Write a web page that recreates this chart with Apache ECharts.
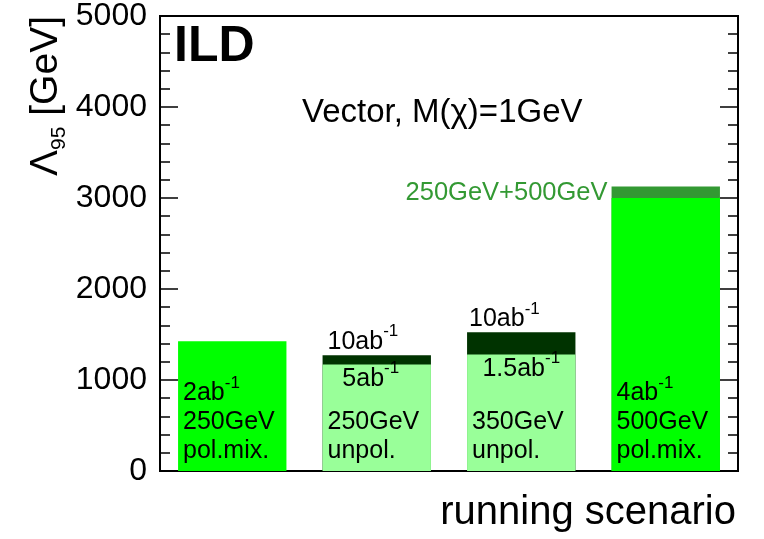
<!DOCTYPE html>
<html>
<head>
<meta charset="utf-8">
<script src="https://cdn.jsdelivr.net/npm/echarts@6/dist/echarts.min.js"></script>
<style>
html,body{margin:0;padding:0;background:#fff;}
#main{width:764px;height:539px;}
</style>
</head>
<body>
<div id="main"></div>
<script>
// ---- data ----
const categories = ['250GeV pol.mix.', '250GeV unpol.', '350GeV unpol.', '500GeV pol.mix.'];
const baseReach = [1425, 1170, 1280, 3000];      // Λ95 [GeV] with nominal luminosity
const fullReach = [null, 1272, 1524, 3126];      // Λ95 [GeV] with extended luminosity / combination
const baseLumi = ['2ab', null, null, '4ab'];
const energyText = ['250GeV', '250GeV', '350GeV', '500GeV'];
const polText = ['pol.mix.', 'unpol.', 'unpol.', 'pol.mix.'];
const lowLumi = [null, '5ab', '1.5ab', null];
const highLumi = [null, '10ab', '10ab', null];
const comboText = '250GeV+500GeV';
const yTicks = [0, 1000, 2000, 3000, 4000, 5000];

const FF = '"Liberation Sans", Arial, Helvetica, sans-serif';
const baseColors = ['#00ff00', '#99ff99', '#99ff99', '#00ff00'];
const fullColors = [null, '#003300', '#003300', '#339933'];

function richFor(lh) {
  return {
    t: {fontFamily: FF, fontSize: 25, lineHeight: lh, verticalAlign: 'middle', color: '#000'},
    s: {fontFamily: FF, fontSize: 17, lineHeight: 4, verticalAlign: 'middle', padding: [0, 0, 21, 0], color: '#000'}
  };
}

const baseData = baseReach.map((v, i) => {
  const lines = [];
  if (baseLumi[i]) lines.push('{t|' + baseLumi[i] + '}{s|-1}');
  lines.push('{t|' + energyText[i] + '}');
  lines.push('{t|' + polText[i] + '}');
  return {
    value: v,
    itemStyle: {color: baseColors[i]},
    label: {show: true, position: 'insideBottomLeft', distance: 5, color: '#000',
      formatter: lines.join('\n'), rich: richFor(29)}
  };
});

const hiOffsets = [0, 5, 2, 0];
const fullData = fullReach.map((v, i) => {
  const d = {value: v, itemStyle: {color: fullColors[i] || '#000'}};
  if (highLumi[i]) {
    d.label = {show: true, position: [hiOffsets[i], -1], align: 'left', verticalAlign: 'bottom', color: '#000',
      formatter: '{t|' + highLumi[i] + '}{s|-1}', rich: richFor(24)};
  } else if (v != null) {
    d.label = {show: true, position: [-4, 6], align: 'right', verticalAlign: 'middle',
      formatter: comboText, fontFamily: FF, fontSize: 25.5, color: '#339933'};
  }
  return d;
});

const lowOffsets = [0, -6, 0, 0];
const lumiData = [];
lowLumi.forEach((t, i) => {
  if (!t) return;
  lumiData.push({
    value: [i, baseReach[i]],
    label: {show: true, position: 'bottom', distance: 0, offset: [lowOffsets[i], 0], color: '#000', opacity: 1,
      textBorderWidth: 0, formatter: '{t|' + t + '}{s|-1}', rich: richFor(29)}
  });
});

const chart = echarts.init(document.getElementById('main'), null, {renderer: 'canvas'});

const yAxisBase = {
  type: 'value', min: 0, max: 5000, interval: 1000,
  axisLine: {show: true, lineStyle: {color: '#000', width: 2}},
  axisTick: {show: true, inside: true, length: 18, lineStyle: {color: '#000', width: 1.5}},
  minorTick: {show: true, splitNumber: 5, length: 10, lineStyle: {color: '#000', width: 1.5}},
  splitLine: {show: false},
  minorSplitLine: {show: false}
};

chart.setOption({
  animation: false,
  backgroundColor: '#fff',
  grid: {left: 160, right: 26, top: 14, bottom: 68, show: true, borderColor: '#000', borderWidth: 2, backgroundColor: 'transparent'},
  xAxis: {
    type: 'category', data: categories,
    axisLine: {show: true, lineStyle: {color: '#000', width: 2}},
    axisTick: {show: false}, axisLabel: {show: false}, splitLine: {show: false}
  },
  yAxis: [
    Object.assign({}, yAxisBase, {
      position: 'left',
      axisLabel: {show: true, margin: 13, fontFamily: FF, fontSize: 32, color: '#000',
        formatter: v => yTicks.includes(v) ? String(v) : ''}
    }),
    Object.assign({}, yAxisBase, {position: 'right', axisLabel: {show: false}})
  ],
  series: [
    {type: 'bar', name: 'full', data: fullData, barWidth: '75%', barGap: '-100%', z: 2},
    {type: 'bar', name: 'base', data: baseData, barWidth: '75%', barGap: '-100%', z: 3},
    {type: 'scatter', name: 'lumi', data: lumiData, symbolSize: 0, z: 4, silent: true,
      itemStyle: {opacity: 1}}
  ],
  graphic: [
    {type: 'text', x: 174, y: 47, style: {text: 'ILD', font: 'bold 50px ' + FF, fill: '#000', align: 'left', verticalAlign: 'middle'}},
    {type: 'text', x: 302, y: 113, style: {text: 'Vector, M(χ)=1GeV', font: '33px ' + FF, fill: '#000', align: 'left', verticalAlign: 'middle'}},
    {type: 'text', x: 736, y: 513, style: {text: 'running scenario', font: '40px ' + FF, fill: '#000', align: 'right', verticalAlign: 'middle'}},
    {type: 'text', x: 46, y: 96, rotation: Math.PI / 2,
      style: {text: '{a|Λ}{s|95}{a| [GeV]}', align: 'center', verticalAlign: 'middle', fill: '#000',
        rich: {a: {fontFamily: FF, fontSize: 39, lineHeight: 38, verticalAlign: 'middle', color: '#000'},
               s: {fontFamily: FF, fontSize: 21, lineHeight: 4, verticalAlign: 'middle', padding: [26, 0, 0, 0], color: '#000'}}}}
  ]
});
</script>
</body>
</html>
